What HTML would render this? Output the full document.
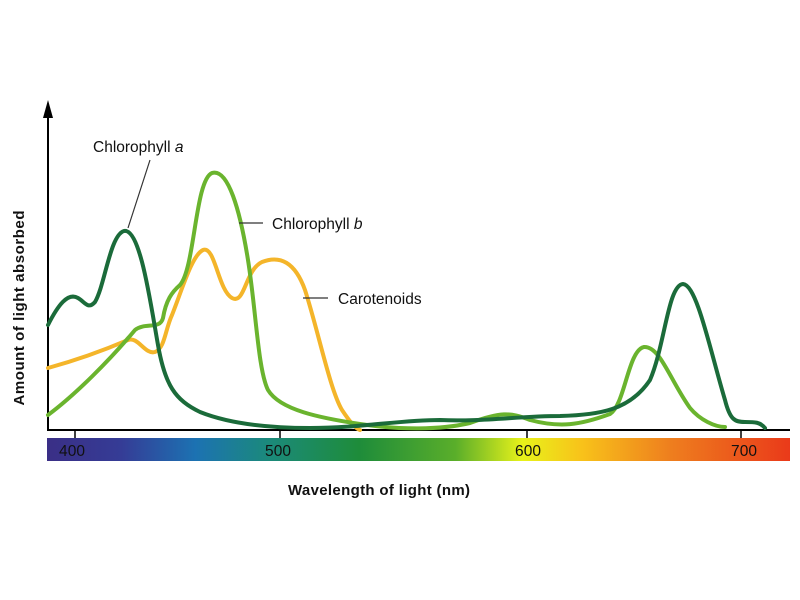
<!DOCTYPE html>
<html><head><meta charset="utf-8"><style>
html,body{margin:0;padding:0;background:#fff;}
svg{display:block;}
text{font-family:"Liberation Sans",Arial,sans-serif;}
</style></head><body>
<svg width="800" height="600" viewBox="0 0 800 600" xmlns="http://www.w3.org/2000/svg">
<defs>
<linearGradient id="spec" x1="0" x2="1" y1="0" y2="0">
<stop offset="0" stop-color="#3a2f86"/>
<stop offset="0.1" stop-color="#353c96"/>
<stop offset="0.2" stop-color="#1c72b2"/>
<stop offset="0.3" stop-color="#1b8a7a"/>
<stop offset="0.42" stop-color="#1e8c3a"/>
<stop offset="0.55" stop-color="#5aae2a"/>
<stop offset="0.64" stop-color="#e8f21a"/>
<stop offset="0.72" stop-color="#f8c21a"/>
<stop offset="0.84" stop-color="#ee7e1e"/>
<stop offset="1" stop-color="#ea3a1a"/>
</linearGradient>
</defs>
<rect x="47" y="438" width="743" height="23" fill="url(#spec)"/>
<g font-size="15.5" fill="#111" text-anchor="middle">
<text x="72" y="456" textLength="26">400</text>
<text x="278" y="456" textLength="26">500</text>
<text x="528" y="456" textLength="26">600</text>
<text x="744" y="456" textLength="26">700</text>
</g>
<line x1="48" y1="110" x2="48" y2="431" stroke="#000" stroke-width="2"/>
<polygon points="43,118 48,100 53,118" fill="#000"/>
<line x1="47" y1="430" x2="790" y2="430" stroke="#000" stroke-width="2"/>
<g stroke="#000" stroke-width="1.5">
<line x1="75" y1="430" x2="75" y2="438"/>
<line x1="280" y1="430" x2="280" y2="438"/>
<line x1="527" y1="430" x2="527" y2="438"/>
<line x1="741" y1="430" x2="741" y2="438"/>
</g>
<g fill="none" stroke-width="4" stroke-linecap="round" stroke-linejoin="round">
<path stroke="#f4b52a" d="M48,368 C70,362 100,352 128,340 C138,336 145,355 155,352 C165,348 165,330 172,315 C182,290 192,255 203,250 C215,245 218,290 232,298 C245,305 245,270 262,262 C280,255 295,262 305,290 C318,330 330,390 342,410 C350,422 355,428 360,430"/>
<path stroke="#6ab42e" d="M48,415 C75,395 110,360 135,330 C145,322 160,330 163,318 C166,300 172,292 180,285 C195,268 195,180 212,173 C228,168 240,210 248,260 C256,310 258,370 268,390 C280,410 320,418 360,424 C400,430 440,430 470,423 C500,412 510,412 530,420 C560,428 580,425 610,414 C625,405 628,350 644,347 C660,346 670,380 690,408 C700,420 715,427 725,427"/>
<path stroke="#1b6b3a" d="M48,325 C58,305 68,292 78,298 C85,302 88,310 95,302 C105,285 110,235 124,231 C140,228 150,300 158,345 C165,385 175,400 200,412 C230,424 270,428 310,428 C360,428 400,420 440,420 C480,422 520,416 560,416 C600,415 630,410 650,380 C665,345 668,285 683,284 C697,285 710,350 725,400 C730,420 735,422 745,422 C755,422 760,422 765,428"/>
</g>
<g stroke="#333" stroke-width="1.2">
<line x1="150" y1="160" x2="128" y2="228"/>
<line x1="239" y1="223" x2="263" y2="223"/>
<line x1="303" y1="298" x2="328" y2="298"/>
</g>
<g font-size="15.5" fill="#111">
<text x="93" y="152">Chlorophyll <tspan font-style="italic">a</tspan></text>
<text x="272" y="229">Chlorophyll <tspan font-style="italic">b</tspan></text>
<text x="338" y="304">Carotenoids</text>
</g>
<text x="379" y="495" font-size="15" font-weight="bold" text-anchor="middle" fill="#111" textLength="182">Wavelength of light (nm)</text>
<text transform="translate(24,308) rotate(-90)" font-size="15" font-weight="bold" text-anchor="middle" fill="#111" textLength="195">Amount of light absorbed</text>
</svg>
</body></html>
